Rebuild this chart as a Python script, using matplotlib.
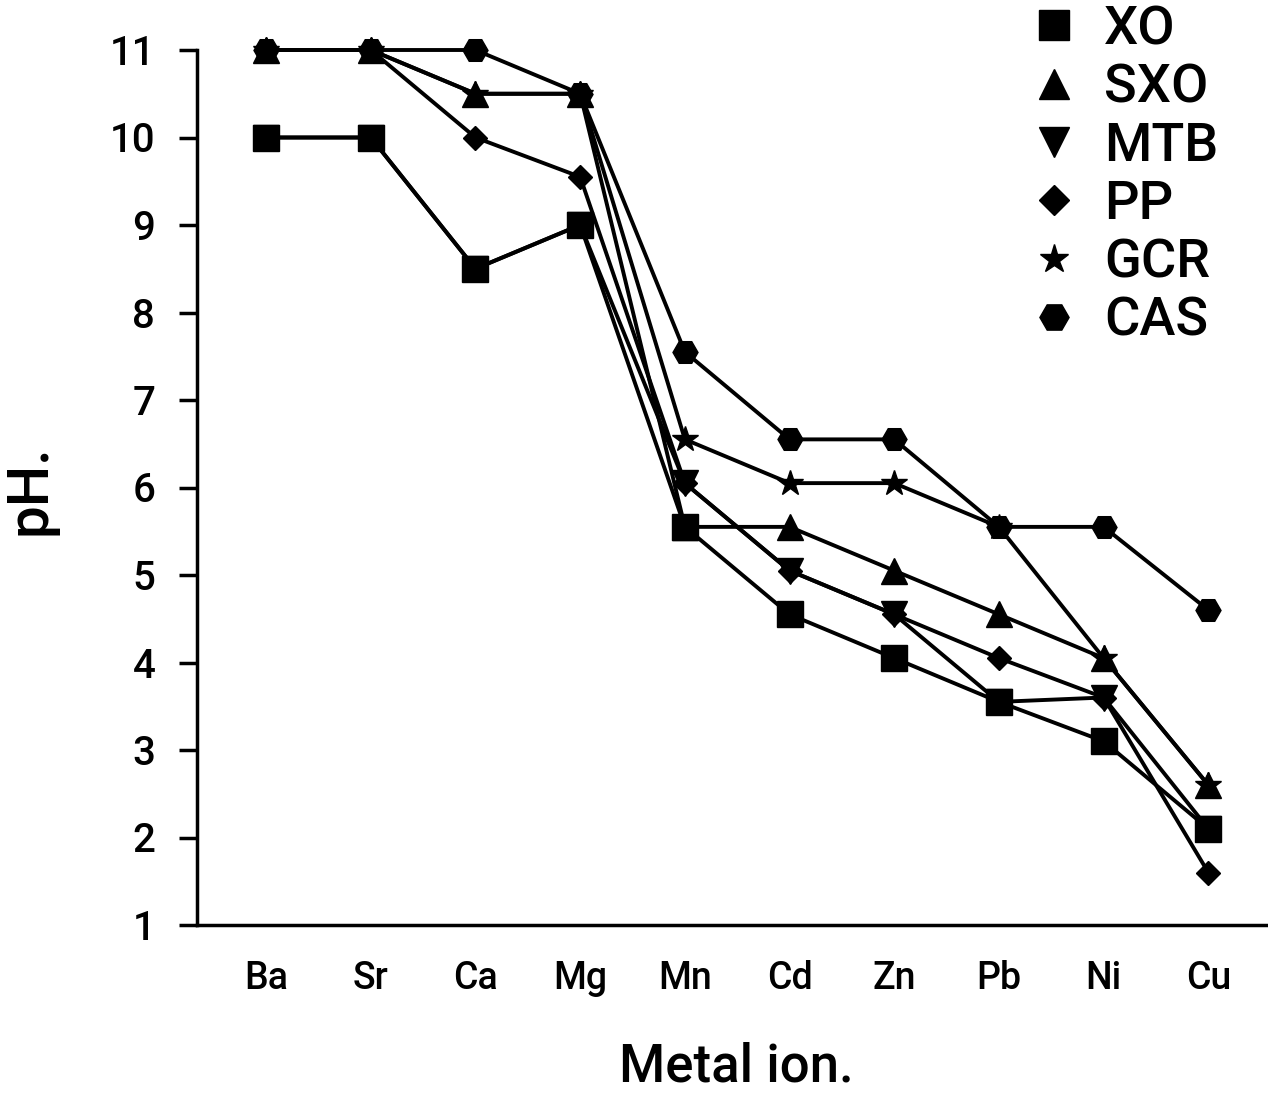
import matplotlib
matplotlib.use('Agg')
import matplotlib.pyplot as plt
from matplotlib.lines import Line2D

plt.rcParams['font.family'] = ['Roboto', 'DejaVu Sans']
plt.rcParams['font.weight'] = 500
plt.rcParams['axes.labelweight'] = 500

metals = ['Ba', 'Sr', 'Ca', 'Mg', 'Mn', 'Cd', 'Zn', 'Pb', 'Ni', 'Cu']
yticks = [1, 2, 3, 4, 5, 6, 7, 8, 9, 10, 11]

xo = [10.0, 10.0, 8.5, 9.0, 5.55, 4.55, 4.05, 3.55, 3.1, 2.1]
sxo = [11.0, 11.0, 10.5, 10.5, 5.55, 5.55, 5.05, 4.55, 4.05, 2.6]
mtb = [10.0, 10.0, 8.5, 9.0, 6.05, 5.05, 4.55, 3.55, 3.6, 2.1]
pp = [11.0, 11.0, 10.0, 9.55, 6.05, 5.05, 4.55, 4.05, 3.6, 1.6]
gcr = [11.0, 11.0, 10.5, 10.5, 6.55, 6.05, 6.05, 5.55, 4.05, 2.6]
cas = [11.0, 11.0, 11.0, 10.5, 7.55, 6.55, 6.55, 5.55, 5.55, 4.6]

names = ['XO', 'SXO', 'MTB', 'PP', 'GCR', 'CAS']
series = [xo, sxo, mtb, pp, gcr, cas]
markers = ['s', '^', 'v', 'D', '*', 'H']
sizes = [19, 19, 19, 12, 19, 18]
zorders = [6, 3, 2, 4, 5, 7]

fig = plt.figure(figsize=(12.68, 10.94), dpi=100)
ax = fig.add_axes([197 / 1268, 1 - 925 / 1094, 1 - 197 / 1268, 875 / 1094])

x = list(range(len(metals)))
for vals, m, s, z in zip(series, markers, sizes, zorders):
    ax.plot(x, vals, color='black', lw=2.8, marker=m, ms=s, zorder=z,
            clip_on=False)

ax.set_xlim(-0.66, 9.57)
ax.set_ylim(1, 11)
ax.set_xticks(x)
ax.set_xticklabels(metals)
ax.set_yticks(yticks)

for side in ['top', 'right']:
    ax.spines[side].set_visible(False)
for side in ['left', 'bottom']:
    ax.spines[side].set_linewidth(2.5)

ax.tick_params(axis='y', direction='out', length=13, width=2.5,
               labelsize=29, pad=17)
ax.tick_params(axis='x', length=0, labelsize=27, pad=25)

ax.set_ylabel('pH.', fontsize=42)
ax.yaxis.set_label_coords(-0.13, 0.497)
ax.set_xlabel('Metal ion.', fontsize=38)
ax.xaxis.set_label_coords(0.504, -0.133)

leg_sizes = [21, 21, 21, 15, 21, 21]
handles = [Line2D([], [], color='black', ls='none', marker=m, ms=s)
           for m, s in zip(markers, leg_sizes)]
fig.legend(handles, names, loc='upper left', bbox_to_anchor=(0.8095, 0.996),
           frameon=False, fontsize=39, borderpad=0, borderaxespad=0,
           handlelength=1.0, handletextpad=0.43, labelspacing=0.135)

fig.savefig('out.png', dpi=100)
